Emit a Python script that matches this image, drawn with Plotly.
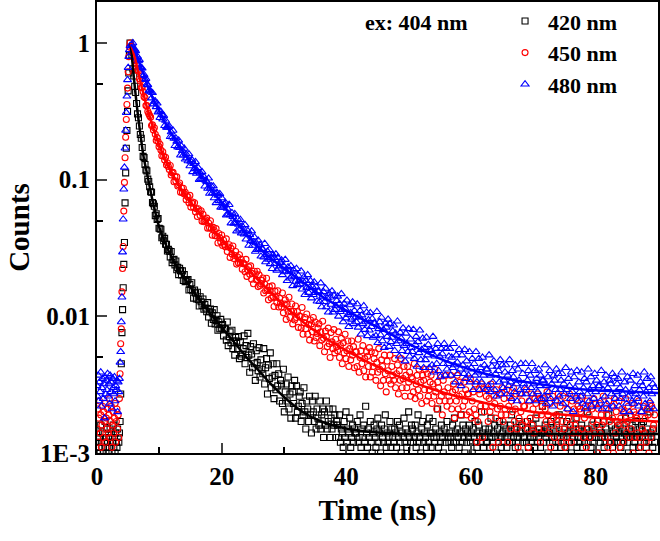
import plotly.graph_objects as go

# ---------------- data: raw counts, normalised by the peak count ----------------
PEAK_COUNTS = 10000.0

# early channels (0.1 ns each, 0.0-5.3 ns): baseline then rising edge
EARLY_START_NS = 0.0
EARLY_CHANNEL_NS = 0.1
black_early = [12, 10, 14, 11, 13, 10, 16, 12, 11, 14, 10, 13, 12, 17, 11, 13, 15, 12,
               10, 13, 11, 15, 12, 14, 10, 12, 16, 11, 13, 10, 14, 12, 11, 15, 13, 12,
               14, 17, 27, 45, 76, 112, 162, 240, 347, 676, 1122, 1698, 2291, 3162, 4467, 6026, 8128, 10000]
red_early = [15, 21, 12, 18, 24, 14, 19, 11, 16, 22, 13, 20, 17, 23, 12, 18, 15, 21,
             14, 19, 25, 13, 17, 22, 11, 16, 20, 14, 18, 23, 12, 17, 21, 15, 19, 13,
             25, 38, 63, 81, 151, 224, 324, 589, 955, 1445, 2042, 2754, 3548, 4677, 6166, 7943, 9333, 10000]
blue_early = [31, 26, 37, 24, 33, 28, 39, 22, 30, 35, 25, 32, 18, 36, 27, 34, 29, 38,
              26, 32, 23, 37, 28, 33, 21, 35, 30, 27, 36, 24, 31, 29, 34, 20, 33, 28,
              35, 46, 55, 91, 138, 295, 513, 851, 1230, 1698, 2291, 3090, 4074, 5370, 6607, 7943, 8913, 9550]

# decay channels: start 5.6 ns, 0.15 ns per channel (each row = 20 channels = 3 ns)
DECAY_START_NS = 5.6
DECAY_CHANNEL_NS = 0.15

black_decay = [
    [8170, 6470, 5740, 4830, 4340, 3610, 3030, 2840, 2470, 2140, 2010, 1720, 1480, 1450, 1290, 1180, 1160, 1010, 970, 887],
    [815, 809, 679, 666, 639, 546, 562, 512, 520, 441, 437, 434, 376, 385, 357, 372, 337, 336, 301, 309],
    [300, 272, 298, 247, 259, 261, 238, 254, 219, 228, 202, 225, 216, 201, 215, 183, 202, 179, 180, 183],
    [186, 156, 171, 157, 176, 154, 136, 156, 148, 134, 150, 133, 119, 139, 128, 120, 134, 113, 122, 115],
    [108, 126, 99, 108, 113, 89, 106, 95, 112, 88, 93, 101, 79, 91, 81, 95, 82, 87, 72, 81],
    [81, 67, 91, 61, 71, 77, 64, 79, 58, 66, 52, 70, 66, 58, 71, 49, 65, 51, 53, 58],
    [72, 45, 61, 50, 75, 52, 39, 60, 53, 42, 63, 45, 34, 56, 46, 40, 59, 36, 48, 41],
    [38, 58, 32, 42, 49, 27, 44, 35, 54, 30, 36, 45, 25, 37, 29, 45, 31, 38, 24, 34],
    [32, 23, 41, 20, 28, 32, 24, 36, 21, 27, 18, 31, 28, 23, 34, 18, 31, 20, 22, 26],
    [28, 17, 23, 19, 30, 20, 15, 24, 21, 17, 26, 19, 14, 24, 20, 17, 26, 15, 21, 18],
    [16, 24, 15, 19, 21, 13, 20, 16, 24, 15, 17, 21, 13, 18, 15, 21, 16, 19, 13, 17],
    [16, 13, 19, 12, 15, 14, 11, 17, 13, 20, 12, 15, 14, 18, 11, 13, 16, 12, 15, 14],
    [14, 17, 12, 13, 19, 11, 15, 13, 16, 12, 22, 14, 11, 15, 13, 17, 12, 10, 14, 16],
    [13, 11, 15, 18, 12, 14, 10, 16, 13, 12, 15, 19, 11, 14, 12, 13, 17, 11, 15, 13],
    [12, 15, 14, 11, 17, 13, 16, 12, 10, 14, 13, 18, 12, 15, 11, 14, 20, 13, 12, 16],
    [15, 12, 13, 16, 11, 14, 19, 12, 13, 10, 15, 17, 12, 14, 13, 11, 16, 12, 18, 14],
    [11, 14, 17, 13, 12, 15, 13, 21, 11, 14, 12, 16, 13, 10, 15, 12, 14, 17, 13, 12],
    [14, 13, 11, 16, 12, 18, 14, 12, 15, 13, 11, 14, 19, 12, 16, 13, 10, 15, 12, 14],
    [13, 16, 12, 14, 10, 15, 13, 17, 12, 11, 14, 16, 13, 12, 20, 14, 11, 13, 15, 12],
    [12, 14, 15, 11, 18, 13, 12, 14, 16, 13, 10, 15, 12, 17, 13, 11, 14, 12, 16, 13],
    [15, 11, 13, 14, 12, 16, 19, 12, 13, 15, 11, 14, 13, 12, 17, 10, 14, 16, 12, 13],
    [13, 15, 12, 17, 11, 14, 13, 12, 15, 16, 13, 11, 18, 14, 12, 13, 15, 11, 14, 22],
    [12, 14, 16, 13, 15, 10, 14, 12, 17, 13, 12, 15, 11, 14, 16, 13, 12, 19, 13, 11],
    [14, 12, 13, 15, 11, 17, 13, 14, 12, 16, 10, 13, 15, 12, 14, 18, 11, 13, 15, 12],
    [13, 16, 11, 14, 12, 13, 15, 20, 12, 14, 13, 11, 16, 12, 15, 13, 14, 10, 17, 13],
    [15, 12, 14, 13, 17, 11, 12, 15, 14, 13, 19, 12, 13, 16, 11, 14, 12, 15, 13, 12],
    [12, 14, 16, 11, 13, 15, 12, 14, 18, 13, 12, 10, 15, 13, 14, 16, 11, 13, 12, 17],
    [14, 13, 11, 15, 12, 16, 13, 17, 12, 14, 11, 15, 13, 12, 20, 14, 13, 11, 15, 12],
]

red_decay = [
    [9420, 8660, 8710, 7580, 7410, 7040, 6370, 6220, 5470, 5270, 4720, 4730, 4400, 4050, 3980, 3490, 3480, 3160, 3040, 2940],
    [2867, 2489, 2518, 2313, 2399, 2145, 1937, 2029, 1901, 1744, 1817, 1647, 1496, 1602, 1489, 1394, 1456, 1283, 1324, 1248],
    [1185, 1268, 1083, 1122, 1131, 965, 1052, 977, 1048, 899, 918, 945, 810, 869, 803, 866, 787, 807, 713, 759],
    [746, 679, 767, 630, 673, 687, 626, 678, 581, 613, 538, 612, 588, 546, 592, 497, 558, 492, 499, 508],
    [523, 442, 482, 445, 500, 440, 392, 448, 425, 389, 438, 387, 344, 404, 375, 350, 394, 330, 360, 336],
    [323, 369, 298, 322, 334, 270, 314, 286, 327, 265, 279, 298, 241, 272, 246, 282, 247, 261, 221, 245],
    [242, 212, 261, 196, 219, 230, 203, 234, 187, 206, 173, 214, 204, 185, 214, 165, 201, 168, 173, 183],
    [191, 148, 172, 154, 190, 155, 132, 165, 154, 136, 167, 139, 118, 153, 138, 126, 154, 117, 136, 125],
    [117, 148, 106, 123, 132, 95, 123, 109, 138, 98, 109, 123, 88, 109, 94, 119, 98, 108, 83, 101],
    [100, 82, 116, 74, 90, 98, 81, 104, 74, 87, 67, 94, 88, 77, 98, 66, 91, 70, 75, 82],
    [88, 61, 77, 67, 92, 69, 55, 78, 71, 60, 82, 63, 50, 76, 65, 58, 80, 54, 68, 60],
    [56, 77, 50, 61, 69, 45, 64, 54, 74, 49, 56, 66, 43, 58, 48, 66, 52, 60, 42, 55],
    [55, 43, 68, 39, 50, 56, 45, 61, 40, 49, 36, 55, 51, 43, 59, 36, 55, 39, 43, 49],
    [54, 34, 46, 39, 58, 41, 31, 48, 43, 34, 52, 38, 28, 47, 40, 34, 52, 32, 43, 37],
    [34, 49, 30, 38, 44, 27, 40, 34, 49, 30, 35, 43, 26, 37, 30, 43, 33, 39, 26, 36],
    [35, 28, 45, 25, 32, 37, 29, 41, 26, 33, 23, 37, 34, 29, 41, 24, 38, 26, 29, 33],
    [37, 23, 32, 26, 41, 28, 21, 33, 30, 24, 37, 26, 19, 34, 28, 24, 37, 22, 30, 26],
    [24, 37, 21, 28, 32, 18, 29, 24, 37, 21, 26, 33, 19, 27, 22, 33, 24, 29, 19, 27],
    [27, 20, 35, 18, 24, 28, 21, 32, 19, 12, 17, 29, 27, 22, 32, 13, 30, 20, 22, 26],
    [29, 17, 25, 20, 32, 22, 11, 26, 23, 18, 29, 21, 12, 27, 22, 19, 30, 17, 25, 21],
    [19, 29, 12, 22, 26, 15, 24, 20, 30, 17, 21, 27, 15, 11, 18, 27, 20, 24, 16, 22],
    [22, 17, 29, 15, 11, 24, 18, 27, 16, 21, 14, 25, 23, 19, 27, 15, 25, 12, 19, 22],
    [25, 15, 21, 17, 28, 19, 14, 23, 11, 16, 26, 18, 13, 24, 19, 17, 27, 15, 22, 12],
    [17, 26, 15, 11, 23, 13, 21, 18, 27, 16, 12, 24, 14, 21, 16, 25, 18, 22, 14, 21],
    [20, 15, 26, 13, 18, 22, 11, 24, 15, 19, 13, 22, 21, 17, 25, 14, 23, 16, 10, 21],
    [23, 14, 19, 16, 26, 17, 13, 21, 19, 11, 24, 17, 12, 22, 18, 10, 25, 14, 20, 17],
    [16, 24, 11, 18, 21, 12, 20, 16, 25, 14, 17, 22, 13, 19, 15, 23, 10, 20, 13, 19],
    [18, 14, 24, 13, 11, 20, 15, 22, 14, 18, 12, 21, 19, 10, 23, 13, 22, 15, 16, 19],
]

blue_decay = [
    [9720, 10000, 8900, 8970, 8760, 7720, 7940, 7390, 7530, 6660, 6580, 6530, 5770, 5860, 5390, 5480, 4980, 4940, 4450, 4520],
    [4380, 3950, 4320, 3570, 3730, 3750, 3410, 3620, 3120, 3220, 2840, 3140, 2990, 2770, 2940, 2480, 2710, 2410, 2410, 2430],
    [2460, 2060, 2230, 2050, 2290, 2000, 1770, 2010, 1900, 1730, 1940, 1710, 1510, 1760, 1630, 1510, 1690, 1410, 1540, 1440],
    [1370, 1540, 1260, 1360, 1400, 1140, 1310, 1200, 1350, 1110, 1160, 1220, 1000, 1120, 1010, 1140, 1010, 1050, 895, 986],
    [968, 861, 1023, 792, 867, 897, 798, 898, 734, 793, 676, 804, 766, 700, 787, 627, 734, 626, 640, 662],
    [680, 550, 615, 559, 656, 553, 481, 571, 535, 479, 562, 483, 420, 516, 470, 433, 509, 406, 456, 421],
    [399, 467, 366, 402, 422, 330, 395, 357, 420, 330, 351, 380, 298, 344, 307, 360, 311, 333, 275, 313],
    [309, 271, 340, 250, 283, 299, 261, 307, 242, 268, 223, 281, 269, 243, 285, 217, 269, 224, 233, 246],
    [258, 201, 235, 211, 260, 214, 182, 229, 214, 190, 234, 196, 167, 218, 196, 180, 223, 170, 199, 182],
    [172, 214, 158, 181, 194, 144, 182, 162, 201, 149, 163, 182, 136, 165, 144, 178, 149, 164, 129, 153],
    [152, 128, 175, 117, 140, 151, 128, 160, 117, 136, 107, 147, 138, 122, 153, 107, 142, 112, 119, 130],
    [140, 100, 124, 108, 146, 112, 91, 124, 114, 97, 131, 103, 84, 121, 106, 95, 127, 88, 110, 98],
    [91, 123, 83, 99, 110, 74, 102, 88, 119, 80, 91, 107, 72, 94, 79, 106, 84, 96, 70, 89],
    [89, 72, 108, 64, 81, 91, 73, 98, 66, 80, 59, 89, 83, 71, 95, 60, 88, 65, 70, 78],
    [86, 56, 75, 63, 92, 66, 51, 76, 69, 56, 82, 61, 47, 75, 63, 55, 81, 51, 68, 59],
    [55, 80, 49, 62, 71, 43, 65, 54, 79, 48, 57, 69, 42, 59, 48, 70, 52, 62, 42, 57],
    [56, 44, 71, 39, 51, 58, 45, 63, 40, 51, 36, 58, 53, 45, 63, 37, 58, 41, 45, 51],
    [58, 37, 50, 42, 63, 44, 33, 52, 46, 38, 57, 41, 31, 52, 44, 38, 57, 35, 47, 41],
    [37, 55, 33, 42, 49, 29, 45, 37, 55, 33, 39, 49, 29, 42, 33, 50, 37, 44, 29, 41],
    [41, 31, 52, 28, 37, 43, 33, 47, 29, 38, 26, 43, 40, 33, 48, 27, 44, 30, 34, 39],
    [44, 27, 37, 31, 48, 33, 25, 40, 36, 28, 44, 32, 24, 41, 34, 29, 45, 27, 38, 32],
    [30, 45, 27, 34, 40, 24, 37, 30, 45, 27, 32, 40, 24, 35, 28, 41, 31, 37, 25, 34],
    [34, 26, 44, 23, 31, 36, 28, 40, 25, 32, 22, 37, 34, 29, 41, 24, 38, 26, 29, 34],
    [38, 23, 32, 27, 42, 29, 21, 35, 31, 25, 39, 28, 20, 36, 30, 26, 40, 24, 33, 28],
    [26, 39, 23, 30, 35, 21, 33, 27, 41, 24, 29, 36, 22, 31, 25, 38, 28, 34, 22, 31],
    [31, 24, 40, 21, 29, 33, 26, 37, 23, 30, 21, 34, 32, 27, 38, 22, 36, 25, 28, 32],
    [35, 22, 30, 25, 39, 27, 20, 33, 29, 23, 36, 26, 20, 34, 28, 24, 38, 23, 31, 27],
    [25, 37, 22, 29, 33, 20, 31, 26, 39, 23, 28, 35, 21, 30, 24, 36, 27, 32, 21, 30],
]

# fitted decay curves (counts, same normalisation)
fit_time = [5.4, 5.8, 6.2, 6.6, 7.0, 7.5, 8.0, 9, 10, 11, 12, 13, 14, 16, 18, 20, 22, 24, 26, 28,
            30, 33, 36, 40, 45, 50, 55, 60, 65, 70, 75, 80, 85, 90]
black_fit = [10000, 6310, 4169, 2884, 2089, 1445, 1122, 676, 447, 339, 269, 224, 191, 141, 107, 83.2,
             64.6, 50.1, 39.8, 31.6, 25.7, 19.95, 17.0, 15.1, 14.1, 13.8, 13.8, 13.8, 13.8, 13.8, 13.8,
             13.8, 13.8, 13.8]
red_fit = [10000, 8710, 7413, 6166, 5129, 4169, 3388, 2399, 1778, 1380, 1122, 933, 794, 603, 468, 363,
           282, 224, 182, 148, 120, 91.2, 72.4, 56.2, 42.7, 33.9, 28.2, 24.5, 21.9, 19.95, 19.05, 18.2,
           17.4, 17.0]
blue_fit = [9772, 9333, 8511, 7586, 6761, 5888, 5012, 3890, 3162, 2570, 2138, 1820, 1549, 1175, 891,
            676, 513, 398, 316, 263, 224, 178, 141, 110, 83.2, 63.1, 49.0, 40.7, 35.5, 32.4, 30.2,
            28.8, 28.2, 27.5]

series_names = ["420 nm", "450 nm", "480 nm"]
y_tick_vals = [0.001, 0.01, 0.1, 1]
y_tick_text = ["1E-3", "0.01", "0.1", "1"]
y_minor_vals = [0.005, 0.05, 0.5]
x_tick_vals = [0, 20, 40, 60, 80]
x_minor_vals = [10, 30, 50, 70]


def full_series(early, decay_rows):
    decay = [v for row in decay_rows for v in row]
    t = [round(EARLY_START_NS + EARLY_CHANNEL_NS * i, 3) for i in range(len(early))]
    t += [round(DECAY_START_NS + DECAY_CHANNEL_NS * i, 3) for i in range(len(decay))]
    y = [v / PEAK_COUNTS for v in list(early) + decay]
    return t, y


FONT = "Liberation Serif, Times New Roman, serif"
styles = [
    ("#000000", "square-open", 6),
    ("#ff0000", "circle-open", 6),
    ("#0000ff", "triangle-up-open", 7),
]
data_sets = [(black_early, black_decay), (red_early, red_decay), (blue_early, blue_decay)]
fits = [black_fit, red_fit, blue_fit]

fig = go.Figure()
for (early, decay), name, (col, sym, size) in zip(data_sets, series_names, styles):
    t, y = full_series(early, decay)
    fig.add_trace(go.Scatter(
        x=t, y=y, mode="markers", name=name, legendgroup=name,
        marker=dict(symbol=sym, size=size, color=col, line=dict(width=1.1, color=col)),
    ))
for fit, (col, _, _) in zip(fits, styles):
    fig.add_trace(go.Scatter(
        x=fit_time, y=[v / PEAK_COUNTS for v in fit], mode="lines", showlegend=False,
        line=dict(color=col, width=2.5, shape="spline", smoothing=0.8), hoverinfo="skip",
    ))

fig.update_layout(
    width=660, height=541,
    margin=dict(l=97, r=2, t=2, b=88, autoexpand=False),
    paper_bgcolor="white", plot_bgcolor="white",
    font=dict(family=FONT, color="black", size=22, weight="bold"),
    showlegend=True,
    legend=dict(
        x=0.722, y=1.004, xanchor="left", yanchor="top",
        font=dict(family=FONT, size=22, color="black", weight="bold"),
        bgcolor="rgba(0,0,0,0)", tracegroupgap=0, itemwidth=36,
    ),
    annotations=[dict(
        text="ex: 404 nm", xref="paper", yref="paper", x=0.569, y=0.955,
        xanchor="center", yanchor="middle", showarrow=False,
        font=dict(family=FONT, size=22, color="black", weight="bold"),
    )],
)

fig.update_xaxes(
    range=[0, 90], tickvals=x_tick_vals, ticks="inside", ticklen=10, tickwidth=2, automargin=False,
    showline=True, linewidth=2, linecolor="black", mirror=True, showgrid=False, zeroline=False,
    tickfont=dict(family=FONT, size=25, color="black", weight="bold"),
    minor=dict(tickvals=x_minor_vals, ticks="inside", ticklen=6, tickwidth=2, tickcolor="black"),
    title=dict(text="Time (ns)", font=dict(family=FONT, size=29, color="black", weight="bold"), standoff=11),
)
fig.update_yaxes(
    type="log", range=[-3, 0.3], tickvals=y_tick_vals, ticktext=y_tick_text, automargin=False,
    ticks="inside", ticklen=10, tickwidth=2,
    showline=True, linewidth=2, linecolor="black", mirror=True, showgrid=False, zeroline=False,
    tickfont=dict(family=FONT, size=25, color="black", weight="bold"),
    minor=dict(tickvals=y_minor_vals, ticks="inside", ticklen=6, tickwidth=2, tickcolor="black"),
    title=dict(text="Counts", font=dict(family=FONT, size=29, color="black", weight="bold"), standoff=2),
)

# remove the browser's default 8px page margin so the figure sits at the window origin
fig.write_html("out.html", config={"displayModeBar": False},
               post_script="document.body.style.margin='0';")
